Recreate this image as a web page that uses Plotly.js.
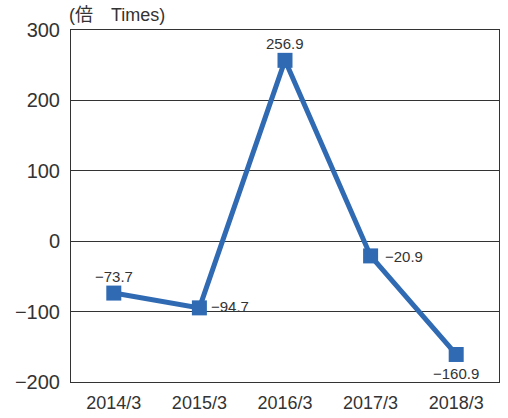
<!DOCTYPE html>
<html>
<head>
<meta charset="utf-8">
<script src="https://cdn.plot.ly/plotly-3.0.1.min.js"></script>
<style>html,body{margin:0;padding:0;background:#fff;}#chart{width:508px;height:418px;}</style>
</head>
<body>
<div id="chart"></div>
<script>
const categories = ["2014/3", "2015/3", "2016/3", "2017/3", "2018/3"];
const values = [-73.7, -94.7, 256.9, -20.9, -160.9];
const valueLabels = ["\u221273.7", "\u221294.7", "256.9", "\u221220.9", "\u2212160.9"];
const yTickVals = [-200, -100, 0, 100, 200, 300];
const yTickText = ["\u2212200", "\u2212100", "0", "100", "200", "300"];

// label placement relative to each point (style, not data)
const labelStyle = [
  {xanchor: "center", yanchor: "middle", xshift: 0, yshift: 17},
  {xanchor: "left", yanchor: "middle", xshift: 10, yshift: 1},
  {xanchor: "center", yanchor: "middle", xshift: 0, yshift: 17},
  {xanchor: "left", yanchor: "middle", xshift: 12, yshift: -1},
  {xanchor: "center", yanchor: "middle", xshift: 0, yshift: -19}
];

const trace = {
  x: categories,
  y: values,
  type: "scatter",
  mode: "lines+markers",
  line: {color: "#2f6ab3", width: 5},
  marker: {symbol: "square", size: 15, color: "#2f6ab3"},
  cliponaxis: false,
  hoverinfo: "none"
};

const annotations = categories.map((c, i) => Object.assign({
  x: c, y: values[i], xref: "x", yref: "y",
  text: valueLabels[i], showarrow: false,
  font: {family: "Liberation Sans, Arial, sans-serif", size: 15, color: "#333"}
}, labelStyle[i]));

annotations.push({
  text: "(\u500d\u3000Times)",
  xref: "paper", yref: "paper", x: 0, y: 1, xanchor: "left", yanchor: "middle",
  xshift: -4, yshift: 15,
  showarrow: false,
  font: {family: "Liberation Sans, Noto Sans CJK JP, sans-serif", size: 18, color: "#333"}
});

const layout = {
  width: 508, height: 418,
  margin: {l: 71, r: 9, t: 30, b: 36},
  paper_bgcolor: "#fff", plot_bgcolor: "#fff",
  showlegend: false,
  font: {family: "Liberation Sans, Arial, sans-serif", color: "#333"},
  xaxis: {
    type: "category",
    range: [-0.5, 4.5],
    showgrid: false,
    showline: true, mirror: true, linecolor: "#333", linewidth: 1,
    ticks: "", zeroline: false,
    ticklabelstandoff: 4,
    tickfont: {size: 18, color: "#333"},
    fixedrange: true
  },
  yaxis: {
    range: [-200, 300],
    tickvals: yTickVals, ticktext: yTickText,
    showgrid: true, gridcolor: "#333", gridwidth: 1,
    zeroline: false,
    showline: true, mirror: true, linecolor: "#333", linewidth: 1,
    ticks: "", ticklabelstandoff: 6,
    tickfont: {size: 20, color: "#333"},
    fixedrange: true
  },
  annotations: annotations
};

Plotly.newPlot("chart", [trace], layout, {staticPlot: true, displayModeBar: false});
</script>
</body>
</html>
